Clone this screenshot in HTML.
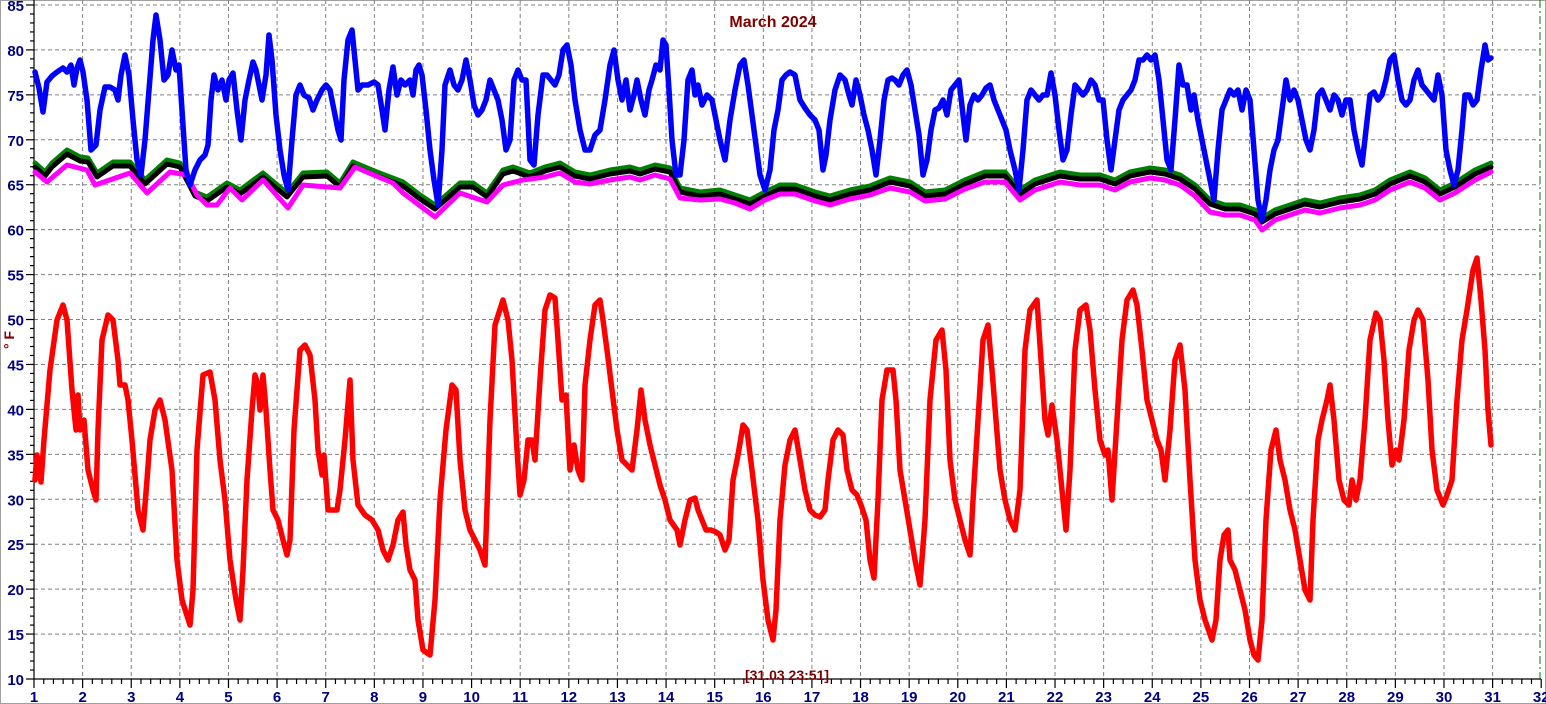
<!DOCTYPE html>
<html><head><meta charset="utf-8"><style>
html,body{margin:0;padding:0;background:#fff;}
svg{display:block;}
text{font-family:"Liberation Sans",Arial,sans-serif;font-weight:bold;}
</style></head><body>
<svg width="1546" height="704" xmlns="http://www.w3.org/2000/svg">
<rect x="0.5" y="0.5" width="1545" height="703" fill="#fff" stroke="#a0a0a0"/>
<g id="grid" stroke="#808080" stroke-dasharray="4,3" stroke-width="1"></g>
<line x1="1540" y1="0" x2="1540" y2="679" stroke="#008000" stroke-dasharray="8,3,2,3"/>
<g id="axes" stroke="#000" stroke-width="1.2"></g>
<g id="labels" fill="#000080" font-size="15"></g>
<text x="773" y="27" text-anchor="middle" fill="#800000" font-size="16">March 2024</text>
<text x="14" y="340" fill="#800000" font-size="14" transform="rotate(-90 14 340)" text-anchor="middle">° F</text>
<text x="787" y="680" text-anchor="middle" fill="#800000" font-size="14">[31.03 23:51]</text>
<g fill="none" stroke-width="5" stroke-linejoin="round" stroke-linecap="round">
<polyline id="g" stroke="#008000"/>
<polyline id="k" stroke="#000"/>
<polyline id="m" stroke="#ff00ff"/>
<polyline id="b" stroke="#0000ff" stroke-width="5.5"/>
<polyline id="r" stroke="#ff0000" stroke-width="5.5"/>
</g>
</svg>
<script>
const NS="http://www.w3.org/2000/svg";
function el(p,t,a,txt){const e=document.createElementNS(NS,t);for(const k in a)e.setAttribute(k,a[k]);if(txt!==undefined)e.textContent=txt;p.appendChild(e);return e;}
const X=d=>34+(d-1)*48.62, Y=v=>679-(v-10)*8.987;
const grid=document.getElementById('grid'),ax=document.getElementById('axes'),lb=document.getElementById('labels');
for(let d=2;d<=31;d++)el(grid,'line',{x1:X(d),y1:0,x2:X(d),y2:679});
for(let v=15;v<=85;v+=5)el(grid,'line',{x1:34,y1:Y(v),x2:1540,y2:Y(v)});
el(ax,'line',{x1:34,y1:0,x2:34,y2:680});
el(ax,'line',{x1:34,y1:679,x2:1541,y2:679});
for(let v=10;v<=85;v++){const big=v%5==0;el(ax,'line',{x1:big?26:30,y1:Y(v),x2:34,y2:Y(v)});if(big)el(lb,'text',{x:24,y:Y(v)+6,'text-anchor':'end'},v);}
for(let i=0;i<=155;i++){const d=1+i/5,big=i%5==0;el(ax,'line',{x1:X(d),y1:679,x2:X(d),y2:big?688:684});if(big)el(lb,'text',{x:X(d),y:702,'text-anchor':'middle'},d);}
const R="35,480 37,455 41,482 44,440 50,370 57,320 63,305 67,320 72,390 76,430 78,395 80,430 84,420 88,470 93,490 96,500 98,430 102,340 108,315 113,320 118,360 120,385 125,385 128,400 132,440 138,510 143,530 147,480 150,440 155,410 160,400 165,420 172,470 177,560 182,600 190,625 193,590 197,450 203,375 210,372 215,400 220,460 225,500 230,560 236,600 240,620 243,570 247,480 252,410 255,375 258,385 260,410 263,375 266,410 270,470 273,510 278,520 283,540 287,555 290,540 294,430 300,350 305,345 310,355 315,400 318,450 322,475 324,455 328,510 333,510 337,510 340,490 345,440 350,380 353,460 358,505 365,515 372,520 378,530 383,550 388,560 393,545 398,520 403,512 406,545 410,570 415,580 418,620 423,650 430,655 435,600 440,500 446,430 452,385 456,390 460,460 465,510 470,530 475,540 480,550 485,565 490,420 495,325 503,300 508,320 512,360 517,450 520,495 524,480 528,440 532,440 535,460 540,380 545,310 550,295 555,298 558,340 562,400 566,395 570,470 574,445 578,470 582,480 585,385 590,340 595,305 600,300 603,320 607,350 612,390 617,430 622,460 627,465 632,470 637,430 641,390 645,420 650,445 655,465 660,485 665,500 670,520 677,530 680,545 685,520 690,500 695,498 698,510 702,520 706,530 711,530 716,532 720,535 725,550 729,540 733,480 738,455 743,425 747,430 752,470 758,520 763,580 768,620 773,640 776,610 780,520 785,465 790,440 795,430 800,460 805,490 810,510 815,515 820,517 825,510 828,480 833,440 838,430 843,435 847,470 852,490 857,495 861,505 866,520 870,560 874,578 878,500 882,400 887,370 893,370 896,400 900,470 905,500 910,530 915,560 920,585 925,520 930,400 936,340 942,330 946,370 950,460 955,500 960,520 965,540 970,555 973,500 978,420 983,340 988,325 992,370 996,420 1000,470 1005,500 1010,520 1015,530 1020,490 1025,350 1030,310 1037,300 1041,360 1045,420 1048,435 1052,405 1057,440 1062,490 1066,530 1070,470 1075,350 1080,310 1086,305 1090,330 1095,390 1100,440 1105,455 1108,450 1112,500 1117,420 1122,340 1127,300 1133,290 1137,305 1142,350 1147,400 1152,420 1157,440 1161,450 1165,480 1170,430 1175,360 1180,345 1185,390 1190,480 1195,560 1200,600 1205,620 1212,640 1216,620 1220,560 1224,535 1228,530 1230,560 1235,570 1240,590 1245,610 1250,640 1254,655 1258,660 1262,620 1266,520 1271,450 1276,430 1280,460 1285,480 1290,510 1295,530 1300,560 1305,590 1310,600 1313,520 1318,440 1322,420 1327,400 1330,385 1334,420 1339,480 1344,500 1349,505 1352,480 1356,500 1360,480 1365,420 1370,340 1376,313 1380,320 1384,360 1388,420 1392,465 1396,450 1399,460 1404,420 1409,350 1414,320 1418,310 1423,320 1428,380 1432,450 1437,490 1443,505 1447,495 1452,480 1457,400 1462,340 1467,310 1473,270 1477,258 1481,300 1485,350 1488,410 1491,445";
const B="35,72 39,88 43,112 47,82 52,76 57,72 63,68 67,72 71,65 74,85 77,68 80,60 83,72 87,100 91,150 96,145 100,110 105,87 110,87 115,90 118,100 121,75 125,55 129,75 133,120 137,160 141,175 145,140 149,90 153,40 156,15 160,40 164,80 168,75 172,50 176,70 179,65 182,110 186,170 190,185 195,170 200,160 205,155 208,145 211,100 214,75 218,90 222,80 226,100 229,80 233,73 237,110 241,140 245,100 249,80 253,62 256,70 259,85 262,100 266,75 269,35 272,60 276,115 280,150 284,175 288,190 292,140 296,95 300,85 304,95 309,98 313,110 317,100 322,90 326,85 330,90 334,110 338,130 341,140 344,80 348,40 352,30 355,60 358,90 362,85 368,85 374,82 378,85 382,110 385,130 389,90 393,67 397,95 401,80 405,85 410,80 413,95 416,70 419,65 422,75 426,110 430,150 434,180 438,205 442,150 445,85 450,70 454,85 458,90 462,80 466,60 470,80 474,105 478,115 482,110 486,100 490,80 494,90 498,100 502,120 506,150 510,140 514,80 518,70 522,80 526,80 530,160 534,165 538,115 543,75 547,75 551,80 555,85 559,75 563,50 567,45 571,65 575,100 580,130 585,150 590,150 595,135 600,130 605,100 610,65 614,50 618,80 622,100 626,80 630,110 634,95 637,80 641,100 645,115 649,90 652,80 656,65 660,70 663,40 666,45 669,90 672,140 676,175 680,175 684,140 688,80 692,70 695,95 698,85 702,105 707,95 712,100 715,115 720,140 725,160 730,120 735,90 740,65 744,60 748,85 752,115 756,145 760,175 765,190 770,170 774,130 778,110 782,80 786,75 790,72 795,75 800,100 805,108 810,115 815,120 819,130 823,170 826,155 830,120 835,90 840,75 845,80 849,95 852,105 856,80 860,95 864,115 868,130 872,150 876,175 880,140 884,100 888,80 892,78 895,80 899,85 903,75 907,70 911,85 915,110 919,135 923,175 927,160 931,130 935,110 939,108 943,100 947,115 951,90 955,85 959,80 963,115 966,140 970,105 974,95 978,100 982,95 986,88 990,85 994,100 998,110 1002,120 1006,130 1010,150 1015,170 1019,190 1023,150 1027,100 1031,90 1035,95 1039,100 1043,95 1047,95 1051,73 1055,95 1059,130 1063,160 1067,150 1071,115 1075,85 1079,90 1083,95 1087,90 1091,80 1095,85 1099,100 1103,100 1107,140 1111,170 1115,140 1119,110 1123,100 1127,95 1131,90 1135,80 1139,60 1143,60 1147,55 1151,60 1155,55 1159,80 1163,120 1167,160 1171,170 1175,120 1179,65 1183,85 1187,85 1191,110 1194,95 1198,120 1202,140 1206,160 1210,180 1214,200 1218,150 1222,110 1226,100 1230,90 1234,95 1238,90 1242,110 1246,90 1250,100 1254,150 1258,200 1262,220 1266,200 1270,170 1274,150 1278,140 1282,110 1286,80 1290,100 1294,90 1298,100 1302,120 1306,140 1310,150 1314,130 1318,95 1322,90 1326,100 1330,110 1334,95 1338,100 1342,115 1346,100 1350,100 1354,130 1358,150 1362,165 1366,130 1370,95 1374,92 1378,100 1382,95 1386,80 1390,60 1394,55 1398,80 1402,100 1406,105 1410,100 1414,80 1418,70 1422,85 1426,90 1430,95 1434,100 1438,75 1442,95 1446,150 1450,170 1454,185 1458,170 1462,130 1465,95 1469,95 1473,105 1477,100 1481,70 1485,45 1488,60 1491,58";
const G="35,163 45,172 52,163 67,150 80,157 88,158 97,173 113,162 130,162 145,180 167,160 180,163 195,192 207,197 227,183 240,190 263,173 287,193 303,173 327,172 340,183 353,162 377,172 403,182 420,195 435,205 460,183 473,183 487,193 503,170 513,167 530,173 545,167 560,163 575,172 590,175 610,170 630,167 640,170 655,165 670,168 680,188 700,192 720,190 735,195 750,200 765,192 780,185 795,185 815,192 830,196 850,190 870,186 890,178 910,182 925,192 945,190 965,180 985,172 1005,172 1020,190 1035,180 1060,172 1080,175 1100,175 1115,180 1130,172 1150,168 1165,170 1180,175 1195,185 1210,200 1225,205 1240,205 1255,210 1262,218 1275,210 1290,205 1305,200 1320,203 1340,198 1360,195 1375,190 1390,180 1410,172 1425,178 1440,190 1455,183 1475,170 1491,163";
const M="35,172 47,182 67,165 87,170 95,185 130,173 147,193 170,172 187,175 197,195 207,205 217,205 230,188 242,200 263,180 288,208 303,185 340,188 355,167 393,183 403,193 435,217 460,193 487,202 503,185 523,180 545,177 560,173 575,182 590,184 610,180 630,177 640,180 655,175 670,179 680,198 700,200 720,199 735,203 750,209 765,200 780,194 795,194 815,201 830,205 850,199 870,195 890,188 910,192 925,201 945,199 965,189 985,182 1005,182 1020,200 1035,190 1060,182 1080,185 1100,185 1115,190 1130,182 1150,178 1165,180 1180,185 1195,196 1210,212 1225,215 1240,215 1255,220 1262,230 1275,220 1290,215 1305,210 1320,213 1340,208 1360,205 1375,200 1390,190 1410,182 1425,188 1440,200 1455,193 1475,180 1491,172";
const off=(s,dy)=>s.split(' ').map(p=>{const[a,b]=p.split(',');return a+','+(+b+dy)}).join(' ');
document.getElementById('r').setAttribute('points',R);
document.getElementById('b').setAttribute('points',B);
document.getElementById('g').setAttribute('points',G);
document.getElementById('k').setAttribute('points',off(G,4));
document.getElementById('m').setAttribute('points',M);
</script>
</body></html>
